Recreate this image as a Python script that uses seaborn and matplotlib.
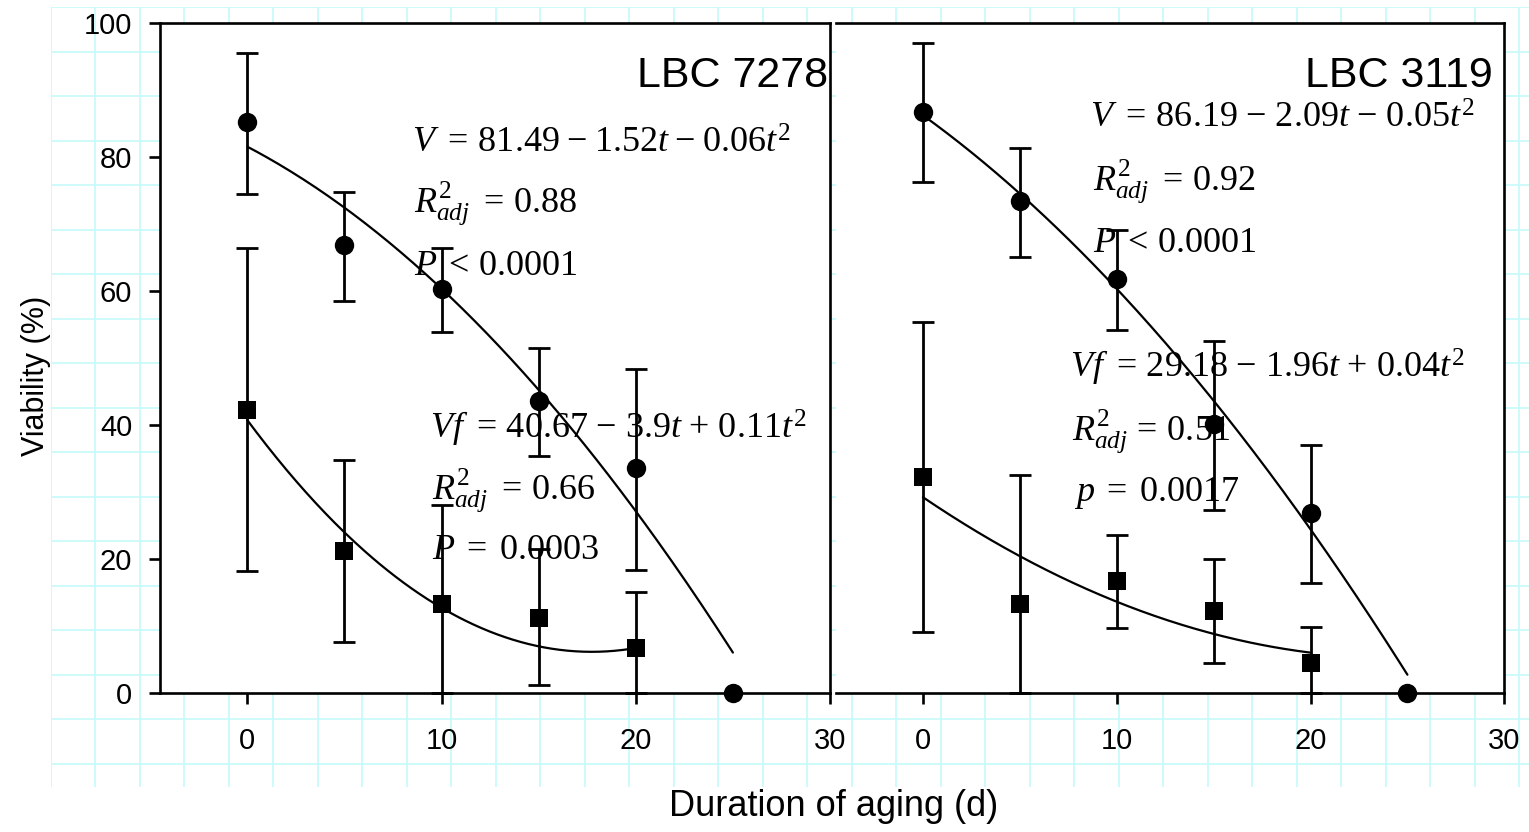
import numpy as np
import pandas as pd
import matplotlib
matplotlib.use("Agg")
import matplotlib.pyplot as plt
import seaborn as sns

# ---- data -------------------------------------------------------------
days_v = [0, 5, 10, 15, 20, 25]
days_vf = [0, 5, 10, 15, 20]

# LBC 7278
a_v_mean = [85.2, 66.8, 60.2, 43.5, 33.5, 0.0]
a_v_low = [74.5, 58.5, 53.8, 35.3, 18.3, 0.0]
a_v_high = [95.5, 74.8, 66.3, 51.5, 48.3, 0.0]
a_vf_mean = [42.2, 21.1, 13.3, 11.1, 6.6]
a_vf_low = [18.2, 7.5, 0.0, 1.2, 0.0]
a_vf_high = [66.3, 34.7, 28.0, 21.4, 15.1]
a_v_coef = [81.49, -1.52, -0.06]
a_vf_coef = [40.67, -3.9, 0.11]

# LBC 3119
b_v_mean = [86.7, 73.4, 61.7, 40.1, 26.8, 0.0]
b_v_low = [76.2, 65.0, 54.1, 27.3, 16.4, 0.0]
b_v_high = [97.0, 81.3, 69.0, 52.5, 36.9, 0.0]
b_vf_mean = [32.2, 13.2, 16.6, 12.2, 4.4]
b_vf_low = [9.0, 0.0, 9.6, 4.4, 0.0]
b_vf_high = [55.3, 32.5, 23.6, 19.9, 9.8]
b_v_coef = [86.19, -2.09, -0.05]
b_vf_coef = [29.18, -1.96, 0.04]

x_ticks = [0, 10, 20, 30]
y_ticks = [0, 20, 40, 60, 80, 100]

# ---- style ------------------------------------------------------------
sns.set_theme(style="white")
plt.rcParams["font.family"] = ["Liberation Sans", "DejaVu Sans"]
plt.rcParams["mathtext.fontset"] = "custom"
plt.rcParams["mathtext.rm"] = "Liberation Serif"
plt.rcParams["mathtext.it"] = "Liberation Serif:italic"
plt.rcParams["mathtext.bf"] = "Liberation Serif:bold"
for key in ["text.color", "axes.labelcolor", "xtick.color", "ytick.color", "axes.edgecolor"]:
    plt.rcParams[key] = "black"

W, H = 1529, 832
fig = plt.figure(figsize=(W / 100, H / 100), dpi=100)

# page grid behind the plot panels
bg = fig.add_axes([50.7 / W, (H - 786.7) / H, 1 - 50.7 / W, (786.7 - 7.3) / H], zorder=-5)
bg.set_xlim(50.7, W)
bg.set_ylim(786.7, 7.3)
bg.set_xticks(np.arange(50.7, W, 44.5))
bg.set_yticks(np.arange(7.3, 787, 44.5))
bg.grid(True, color="#c6fafa", linewidth=1.2)
bg.tick_params(length=0, labelbottom=False, labelleft=False)
for s in bg.spines.values():
    s.set_visible(False)
bg.set_facecolor("none")

lw_axis = 1.9
ax_a = fig.add_axes([160 / W, (H - 692.7) / H, 670 / W, 670 / H])
ax_b = fig.add_axes([835.7 / W, (H - 692.7) / H, 668.6 / W, 670 / H])


def draw_series(ax, days, mean, low, high, marker):
    d = pd.DataFrame({"t": days, "m": mean, "lo": low, "hi": high})
    e = d[d["hi"] > d["lo"]]
    ax.errorbar(e["t"], e["m"], yerr=[e["m"] - e["lo"], e["hi"] - e["m"]],
                fmt="none", ecolor="black", elinewidth=2.0, capsize=8.2,
                capthick=2.0, zorder=2, clip_on=False)
    sns.scatterplot(data=d, x="t", y="m", marker=marker, s=195 if marker == "o" else 180,
                    color="black", edgecolor="black", linewidth=0, ax=ax,
                    zorder=4, clip_on=False, legend=False)


def draw_fit(ax, coef, t_end):
    tt = np.linspace(0, t_end, 200)
    yy = coef[0] + coef[1] * tt + coef[2] * tt ** 2
    sns.lineplot(x=tt, y=yy, color="black", linewidth=1.6, ax=ax, zorder=3,
                 estimator=None, sort=False)


panels = [
    (ax_a, "LBC 7278", a_v_mean, a_v_low, a_v_high, a_vf_mean, a_vf_low, a_vf_high,
     a_v_coef, a_vf_coef),
    (ax_b, "LBC 3119", b_v_mean, b_v_low, b_v_high, b_vf_mean, b_vf_low, b_vf_high,
     b_v_coef, b_vf_coef),
]

for ax, name, vm, vl, vh, fm, fl, fh, vc, fc in panels:
    draw_fit(ax, vc, 25)
    draw_fit(ax, fc, 20)
    draw_series(ax, days_v, vm, vl, vh, "o")
    draw_series(ax, days_vf, fm, fl, fh, "s")
    ax.set_xlim(-4.5, 30)
    ax.set_ylim(0, 100)
    ax.set_xticks(x_ticks)
    ax.set_xlabel("")
    ax.set_ylabel("")
    ax.set_facecolor("white")
    for s in ax.spines.values():
        s.set_linewidth(lw_axis)
        s.set_color("black")
    ax.tick_params(axis="x", direction="out", length=8, width=lw_axis, pad=17,
                   labelsize=21, colors="black", bottom=True)
    ax.text(29.9 if ax is ax_a else 29.4, 92, name, ha="right", va="center",
            fontsize=31, color="black")

ax_a.set_yticks(y_ticks)
ax_a.tick_params(axis="y", direction="out", length=8, width=lw_axis, pad=12,
                 labelsize=21, colors="black", left=True)
ax_b.set_yticks([])
ax_b.spines["left"].set_visible(False)

eq = dict(fontsize=26, ha="left", va="center", color="black")
# LBC 7278 fits
ax_a.text(8.5, 82.0, r"$V\ =\,81.49\;{-}\;1.52t\;{-}\;0.06t^2$", **eq)
ax_a.text(8.6, 72.9, r"$R^2_{adj}\ =\,0.88$", **eq)
ax_a.text(8.6, 63.8, r"$P\;<\,0.0001$", **eq)
ax_a.text(9.4, 39.5, r"$Vf\ =\,40.67\ {-}\ 3.9t\ {+}\ 0.11t^2$", **eq)
ax_a.text(9.5, 30.2, r"$R^2_{adj}\ =\,0.66$", **eq)
ax_a.text(9.5, 21.3, r"$P\;=\;0.0003$", **eq)
# LBC 3119 fits
ax_b.text(8.6, 85.8, r"$V\ =\,86.19\ {-}\ 2.09t\ {-}\ 0.05t^2$", **eq)
ax_b.text(8.8, 76.2, r"$R^2_{adj}\ =\,0.92$", **eq)
ax_b.text(8.8, 67.2, r"$P\;<\,0.0001$", **eq)
ax_b.text(7.6, 48.5, r"$Vf\ =\,29.18\ {-}\ 1.96t\ {+}\ 0.04t^2$", **eq)
ax_b.text(7.7, 38.9, r"$R^2_{adj}\,=\,0.51$", **eq)
ax_b.text(7.8, 29.8, r"$p\;=\;0.0017$", **eq)

fig.text(834 / W, (H - 806) / H, "Duration of aging (d)", ha="center", va="center",
         fontsize=26, color="black")
fig.text(36 / W, (H - 376) / H, "Viability (%)", ha="center", va="center",
         rotation=90, fontsize=22, color="black")

fig.savefig("out.png", dpi=100, facecolor="white")
